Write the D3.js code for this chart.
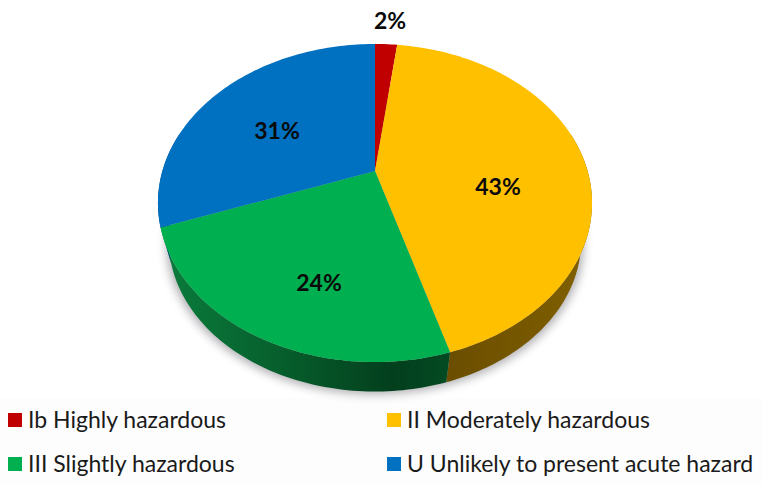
<!DOCTYPE html>
<html>
<head>
<meta charset="utf-8">
<script src="https://cdn.jsdelivr.net/npm/d3@7"></script>
<style>
  html, body { margin: 0; padding: 0; background: #fff; }
  text { font-family: Lato, "Open Sans", sans-serif; }
</style>
</head>
<body>
<div id="chart"></div>
<script>
var svgWidth = 763;
var svgHeight = 485;

// Values; labels show the rounded figures
var categories = ["Ib Highly hazardous", "II Moderately hazardous", "III Slightly hazardous", "U Unlikely to present acute hazard"];
var shares = [2, 43.4, 24, 30.6];
var percentLabels = ["2%", "43%", "24%", "31%"];
var sliceColors = ["#c00000", "#ffc000", "#00b050", "#0070c0"];

// Excel-style perspective pie: the apex sits above the middle of the ellipse
var apex = { x: 375, y: 171 };
var tilt = 0.2013;
var rimX = 212.6;
var rimY = 152.6;
var bottomScale = 0.95;
var bottomDrop = 39;

var labelSpots = [[390, 21], [498, 187], [319, 283], [277, 131]];
var legendSpots = [[8, 413], [387, 413], [8, 457], [387, 457]];

var svg = d3.select("#chart")
  .append("svg")
  .attr("width", svgWidth)
  .attr("height", svgHeight)
  .style("display", "block");

var defs = svg.append("defs");

defs.append("filter")
  .attr("id", "soft")
  .attr("x", "-10%").attr("y", "-10%")
  .attr("width", "120%").attr("height", "120%")
  .append("feGaussianBlur")
  .attr("stdDeviation", 5);

var greenSide = defs.append("linearGradient")
  .attr("id", "greenSide")
  .attr("gradientUnits", "userSpaceOnUse")
  .attr("x1", 160).attr("x2", 450).attr("y1", 0).attr("y2", 0);
greenSide.append("stop").attr("offset", "0").attr("stop-color", "#0a7d3c");
greenSide.append("stop").attr("offset", "0.45").attr("stop-color", "#065c2b");
greenSide.append("stop").attr("offset", "0.8").attr("stop-color", "#033f1d");
greenSide.append("stop").attr("offset", "1").attr("stop-color", "#034a22");

var yellowSide = defs.append("linearGradient")
  .attr("id", "yellowSide")
  .attr("gradientUnits", "userSpaceOnUse")
  .attr("x1", 445).attr("x2", 590).attr("y1", 0).attr("y2", 0);
yellowSide.append("stop").attr("offset", "0").attr("stop-color", "#6a4d00");
yellowSide.append("stop").attr("offset", "1").attr("stop-color", "#806000");

// angle is clockwise from 12 o'clock, r is 1 on the rim
function project(angle, r) {
  var u = Math.sin(angle) * r;
  var v = -Math.cos(angle) * r;
  var w = 1 - tilt * v;
  return [apex.x + rimX * u / w, apex.y + rimY * v / w];
}

function projectBottom(angle) {
  var p = project(angle, 1);
  return [apex.x + (p[0] - apex.x) * bottomScale, apex.y + bottomDrop + (p[1] - apex.y) * bottomScale];
}

function sweep(a0, a1) {
  var n = Math.max(2, Math.ceil((a1 - a0) / 0.02));
  return d3.range(n + 1).map(function(i) { return a0 + (a1 - a0) * i / n; });
}

var line = d3.line();

var arcs = d3.pie().sort(null)(shares);

// background behind the legend is very slightly off white
svg.append("rect")
  .attr("x", 0).attr("y", 398)
  .attr("width", svgWidth).attr("height", svgHeight - 398)
  .attr("fill", "#fdfdfd");

// soft shadow under the disc
svg.append("path")
  .attr("d", line(sweep(0, 2 * Math.PI).map(function(a) {
    var p = projectBottom(a);
    return [p[0] + (p[0] - apex.x) * 0.012, p[1] + 3];
  })) + "Z")
  .attr("fill", "#6f6f78")
  .attr("opacity", 0.55)
  .attr("filter", "url(#soft)");

// rim wall, only the front half can be seen
var sideFill = ["#7a0000", "url(#yellowSide)", "url(#greenSide)", "#004a80"];
var frontStart = Math.PI / 2 - 0.25;
var frontEnd = 3 * Math.PI / 2 + 0.25;

svg.append("g").selectAll("path")
  .data(arcs)
  .enter()
  .append("path")
  .attr("d", function(d) {
    var a0 = Math.max(d.startAngle, frontStart);
    var a1 = Math.min(d.endAngle, frontEnd);
    if (a1 <= a0) return null;
    var angles = sweep(a0, a1);
    var top = angles.map(function(a) { return project(a, 1); });
    var bottom = angles.slice().reverse().map(projectBottom);
    return line(top.concat(bottom)) + "Z";
  })
  .attr("fill", function(d, i) { return sideFill[i]; });

// top face
svg.append("g").selectAll("path")
  .data(arcs)
  .enter()
  .append("path")
  .attr("d", function(d) {
    var rim = sweep(d.startAngle, d.endAngle).map(function(a) { return project(a, 1); });
    return line([[apex.x, apex.y]].concat(rim)) + "Z";
  })
  .attr("fill", function(d, i) { return sliceColors[i]; });

// percent labels
svg.append("g").selectAll("text")
  .data(percentLabels)
  .enter()
  .append("text")
  .attr("x", function(d, i) { return labelSpots[i][0]; })
  .attr("y", function(d, i) { return labelSpots[i][1]; })
  .attr("dy", "0.35em")
  .attr("text-anchor", "middle")
  .attr("font-size", 23)
  .attr("font-weight", 700)
  .attr("fill", "#0a0a0a")
  .text(function(d) { return d; });

// legend
var legend = svg.append("g").selectAll("g")
  .data(categories)
  .enter()
  .append("g")
  .attr("transform", function(d, i) { return "translate(" + legendSpots[i][0] + "," + legendSpots[i][1] + ")"; });

legend.append("rect")
  .attr("width", 14)
  .attr("height", 14)
  .attr("fill", function(d, i) { return sliceColors[i]; });

legend.append("text")
  .attr("x", 20)
  .attr("y", 7)
  .attr("dy", "0.35em")
  .attr("font-size", 23)
  .attr("fill", "#1a1a1a")
  .text(function(d) { return d; });
</script>
</body>
</html>
